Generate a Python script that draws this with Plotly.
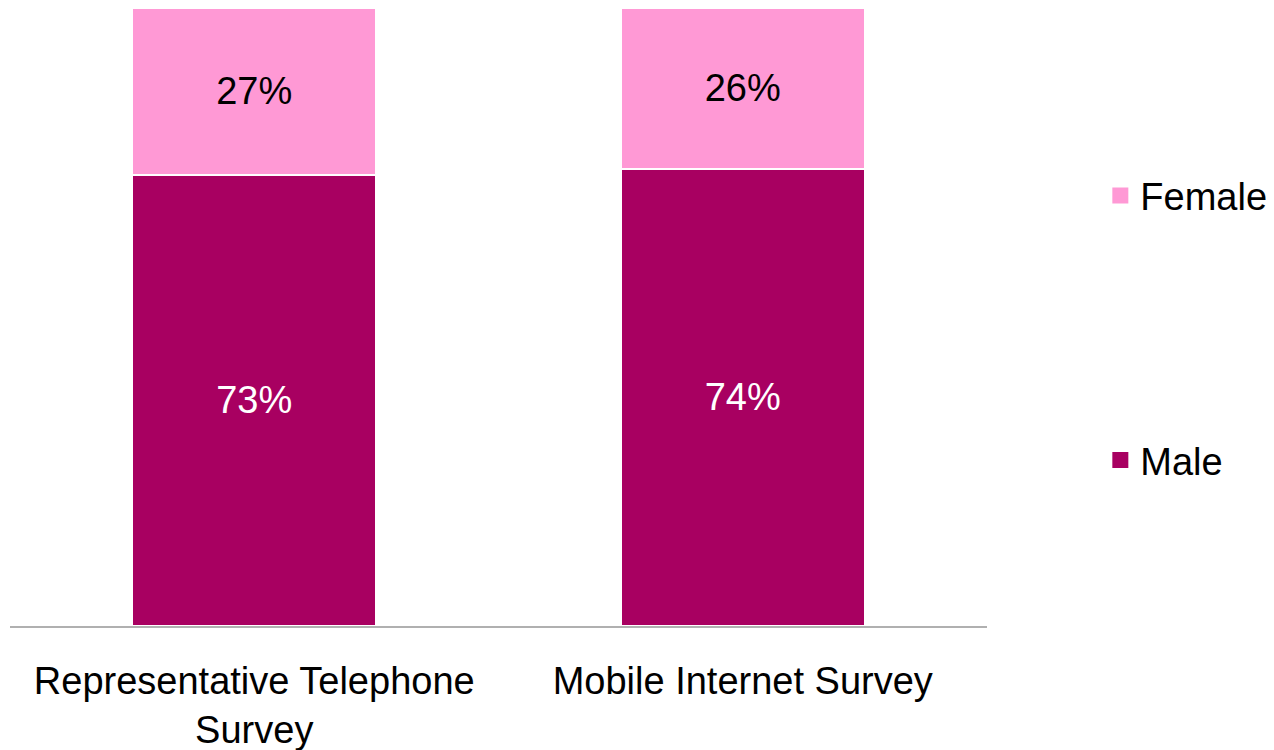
import plotly.graph_objects as go

categories = ["Representative Telephone<br>Survey", "Mobile Internet Survey"]
male = [73, 74]
female = [27, 26]
male_labels = ["73%", "74%"]
female_labels = ["27%", "26%"]

MALE_C = "#a80061"
FEMALE_C = "#ff99d5"
FONT = "Liberation Sans, Arial, sans-serif"
FS = 38

fig = go.Figure()
fig.add_trace(go.Bar(
    x=categories, y=male, name="Male", showlegend=False,
    marker=dict(color=MALE_C, line=dict(color="white", width=2)),
    text=male_labels, textposition="inside", insidetextanchor="middle",
    textfont=dict(color="white", size=FS, family=FONT),
    hoverinfo="skip",
))
fig.add_trace(go.Bar(
    x=categories, y=female, name="Female", showlegend=False,
    marker=dict(color=FEMALE_C, line=dict(color="white", width=2)),
    text=female_labels, textposition="inside", insidetextanchor="middle",
    textfont=dict(color="black", size=FS, family=FONT),
    hoverinfo="skip",
))
# legend entries (square markers)
for name, col, grp in [("Female", FEMALE_C, "f"), ("Male", MALE_C, "m")]:
    fig.add_trace(go.Scatter(
        x=[None], y=[None], mode="markers", name=name, legendgroup=grp,
        marker=dict(symbol="square", size=16, color=col),
        showlegend=True,
    ))

fig.update_layout(
    width=1266, height=742,
    barmode="stack", bargap=0.5,
    plot_bgcolor="white", paper_bgcolor="white",
    margin=dict(l=2, r=287, t=0, b=124),
    font=dict(family=FONT, size=FS, color="black"),
    showlegend=True,
    legend=dict(
        x=1.116, y=0.747, xanchor="left", yanchor="top",
        traceorder="grouped", tracegroupgap=212, itemsizing="trace",
        font=dict(size=FS, family=FONT, color="black"),
        bgcolor="rgba(0,0,0,0)",
    ),
    uniformtext=dict(minsize=FS, mode="show"),
)
fig.update_xaxes(
    showline=True, linecolor="#b0b0b0", linewidth=2,
    ticks="outside", ticklen=20, tickcolor="rgba(0,0,0,0)",
    tickfont=dict(size=FS, family=FONT, color="black"),
    showgrid=False, zeroline=False,
)
fig.update_yaxes(
    range=[0, 100], showticklabels=False, showgrid=False,
    zeroline=False, showline=False,
)

fig.write_html("out.html")
